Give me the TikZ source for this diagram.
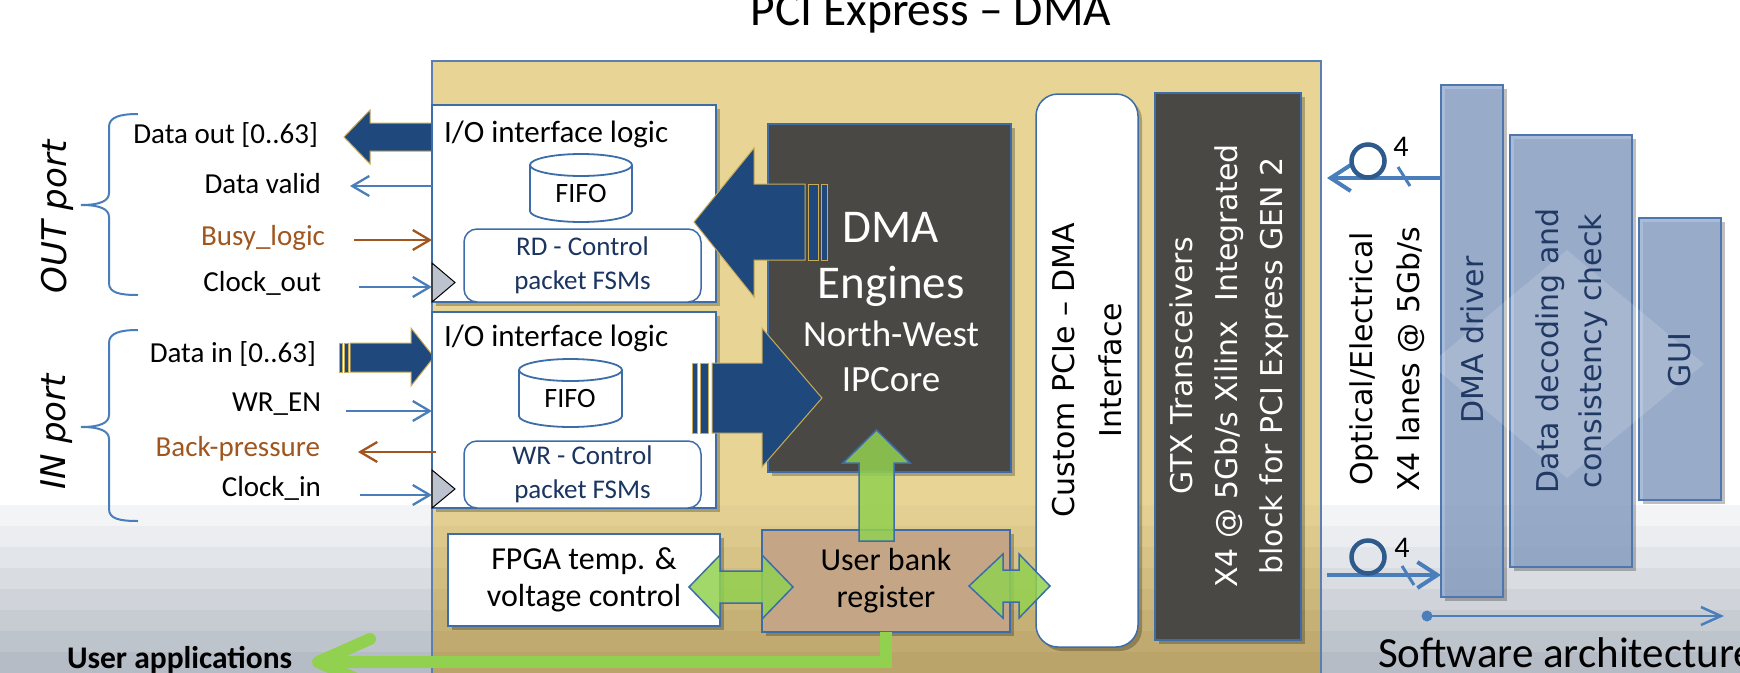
\documentclass[tikz,border=0pt]{standalone}
\usepackage{fontspec}
\setmainfont{Carlito}
\newfontfamily\vera{DejaVu Sans}[ItalicFont={DejaVu Sans Oblique}]
\usetikzlibrary{arrows.meta,shadows}

\definecolor{frameY}{HTML}{E8D596}
\definecolor{frameLine}{HTML}{5B7FB0}
\definecolor{boxLine}{HTML}{3C6DA8}
\definecolor{darkBox}{HTML}{4A4844}
\definecolor{bigBlue}{HTML}{1F497D}
\definecolor{goldEdge}{HTML}{C9AB56}
\definecolor{sigBlue}{HTML}{4A7EBB}
\definecolor{sigOrange}{HTML}{A0561E}
\definecolor{busGreen}{HTML}{92D050}
\definecolor{regTan}{HTML}{C4A687}
\definecolor{swFill}{HTML}{8CA5CC}
\definecolor{swLine}{HTML}{4F77AD}
\definecolor{swText}{HTML}{203864}
\definecolor{fsmText}{HTML}{1B3560}
\definecolor{clkGray}{HTML}{BCC3CE}
\definecolor{lensBlue}{HTML}{2E5A8C}

\newcommand\fsz[2]{\fontsize{#1}{#2}\selectfont}
% FIFO drum: left x, right x, top y, bottom y
\newcommand\fifodrum[4]{%
  \pgfmathsetmacro\drumrx{(#2-#1)/2}%
  \draw[fifo] (#1,#3+11) -- (#1,#4-11)
     arc[start angle=180,end angle=360,x radius=\drumrx pt,y radius=11pt]
     -- (#2,#3+11)
     arc[start angle=0,end angle=180,x radius=\drumrx pt,y radius=11pt] -- cycle;
  \draw[fifo,fill=none] (#1,#3+11)
     arc[start angle=180,end angle=360,x radius=\drumrx pt,y radius=11pt];
}

\begin{document}
\begin{tikzpicture}[x=1pt,y=-1pt,
  every node/.style={inner sep=0pt,outer sep=0pt},
  softshadow/.style={drop shadow={shadow xshift=4pt,shadow yshift=-4pt,opacity=0.25,fill=black}},
  iobox/.style={draw=boxLine,line width=1.5pt,fill=white,softshadow},
  fsmbox/.style={draw=boxLine,line width=1.5pt,fill=white,rounded corners=13pt,
    text=fsmText,align=center,font=\fsz{27}{34}},
  darkbox/.style={draw=boxLine,line width=2pt,fill=darkBox,softshadow},
  swbox/.style={draw=swLine,line width=2pt,fill=swFill,fill opacity=0.75,softshadow},
  sig/.style={draw=sigBlue,line width=2.3pt,-{Straight Barb[length=17pt,width=20pt]}},
  sigo/.style={sig,draw=sigOrange},
  sigtext/.style={font=\fsz{29}{34},anchor=east},
  bigarrow/.style={fill=bigBlue,draw=goldEdge,line width=1pt},
  greenarrow/.style={fill=busGreen,fill opacity=0.85,draw=boxLine,line width=1.5pt},
  greenbus/.style={draw=busGreen,line width=12pt},
  fifo/.style={draw=boxLine,line width=1.8pt,fill=white},
  clock/.style={fill=clkGray,draw=black,line width=1pt},
  curlyline/.style={draw=sigBlue,line width=2pt},
  vtext/.style={rotate=90,align=center,font=\vera\fsz{30}{47}},
  optic/.style={draw=sigBlue,line width=4pt,-{Straight Barb[length=20pt,width=26pt]}},
  lanetick/.style={draw=sigBlue,line width=3pt},
  swaxis/.style={draw=sigBlue,line width=2.5pt,-{Straight Barb[length=20pt,width=18pt]}},
]
\useasboundingbox (0,0) rectangle (1740,672);

% backdrop with horizontal bands
\fill[white] (0,0) rectangle (1740,672);
\fill[frameY] (432,61) rectangle (1321,672);
\foreach \y/\g/\f in {505/F3F4F6/E2CF91,526/EBEDF0/DCC98B,547/E2E5E9/D7C386,
    568/D9DDE2/D1BD80,589/D0D4DA/CBB67B,610/C7CCD3/C5B075,631/BEC4CC/C0AA70,652/B5BCC6/BAA46A}{
  \definecolor{bandG}{HTML}{\g}\definecolor{bandF}{HTML}{\f}
  \fill[bandG] (0,\y) rectangle (432,\y+21.5);
  \fill[bandG] (1321,\y) rectangle (1740,\y+21.5);
  \fill[bandF] (432,\y) rectangle (1321,\y+21.5);
}
\node[draw=frameLine,line width=1.5pt,minimum width=889pt,minimum height=640pt] (board) at (876.5,381) {};

% title
\node[anchor=base,font=\fsz{47.5}{57}] (title) at (931,25) {PCI Express – DMA};

% port groups
\node[font=\vera\itshape\fsz{34}{40},rotate=90] (outPort) at (57,217) {OUT port};
\node[font=\vera\itshape\fsz{34}{40},rotate=90] (inPort) at (57,432) {IN port};
\draw[curlyline] (138,114) .. controls (120,114) and (109,117) .. (109,127) -- (109,193)
  .. controls (109,201) and (100,205) .. (81,205) .. controls (100,205) and (109,209) .. (109,217)
  -- (109,283) .. controls (109,293) and (120,295) .. (138,295);
\draw[curlyline] (138,330) .. controls (120,330) and (109,333) .. (109,343) -- (109,415)
  .. controls (109,423) and (100,427) .. (81,427) .. controls (100,427) and (109,431) .. (109,439)
  -- (109,509) .. controls (109,519) and (120,521) .. (138,521);

% signal names
\node[sigtext] (lDout) at (318,135) {Data out [0..63]};
\node[sigtext] (lDvalid) at (321,184) {Data valid};
\node[sigtext,text=sigOrange] (lBusy) at (325,238) {Busy\_logic};
\node[sigtext] (lClkOut) at (321,283) {Clock\_out};
\node[sigtext] (lDin) at (316,354) {Data in [0..63]};
\node[sigtext] (lWr) at (321,404) {WR\_EN};
\node[sigtext,text=sigOrange] (lBp) at (320,449) {Back-pressure};
\node[sigtext] (lClkIn) at (321,488) {Clock\_in};

% wide data paths at the ports
\filldraw[bigarrow] (432,123) -- (370,123) -- (370,110) -- (344,137) -- (370,164) -- (370,151) -- (432,151) -- cycle;
\filldraw[bigarrow] (339,343) rectangle (342,372);
\filldraw[bigarrow] (344,343) rectangle (348,372);
\filldraw[bigarrow] (350,343) -- (411,343) -- (411,328) -- (434,357) -- (411,386) -- (411,372) -- (350,372) -- cycle;

% I/O interface blocks
\node[iobox,minimum width=284pt,minimum height=197pt] (ioOut) at (574,203.5) {};
\node[iobox,minimum width=284pt,minimum height=196pt] (ioIn) at (574,410) {};
\node[anchor=west,font=\fsz{31}{36}] (ioOutTitle) at (444,134) {I/O interface logic};
\node[anchor=west,font=\fsz{31}{36}] (ioInTitle) at (444,338) {I/O interface logic};
\fifodrum{530}{632}{154}{222}
\node[font=\fsz{28}{34}] (fifoOut) at (581,194) {FIFO};
\fifodrum{519}{622}{359}{427}
\node[font=\fsz{28}{34}] (fifoIn) at (570,399) {FIFO};
\node[fsmbox,minimum width=237pt,minimum height=73pt] (rdFsm) at (582.5,265.5) {RD - Control\\packet FSMs};
\node[fsmbox,minimum width=237pt,minimum height=67pt] (wrFsm) at (582.5,474.5) {WR - Control\\packet FSMs};

% single-wire signals
\coordinate (dvEnd) at (350,186);
\coordinate (busyFrom) at (354,240);
\coordinate (clkoFrom) at (359,287);
\coordinate (wrFrom) at (346,411);
\coordinate (bpEnd) at (358,452);
\coordinate (clkiFrom) at (360,495);
\draw[sig] (dvEnd -| ioOut.west) -- (dvEnd);
\draw[sigo] (busyFrom) -- (busyFrom -| ioOut.west);
\draw[sig] (clkoFrom) -- (clkoFrom -| ioOut.west);
\draw[sig] (wrFrom) -- (wrFrom -| ioIn.west);
\draw[sigo] ([xshift=4pt]bpEnd -| ioIn.west) -- (bpEnd);
\draw[sig] (clkiFrom) -- (clkiFrom -| ioIn.west);
\filldraw[clock] (432,263) -- (455,282.5) -- (432,302) -- cycle;
\filldraw[clock] (432,470) -- (455,489) -- (432,508) -- cycle;

% DMA engine core
\node[darkbox,minimum width=243pt,minimum height=348pt] (dma) at (889.5,298) {};
\node[text=white,align=center,font=\fsz{47}{56}] (dmaName) at (891,259) {DMA\\Engines};
\node[text=white,align=center,font=\fsz{37}{45}] (dmaCore) at (891,356.5) {North-West\\IPCore};

% wide data paths between the engine and the I/O blocks
\filldraw[bigarrow] (808,184) rectangle (818,260);
\filldraw[bigarrow] (821,184) rectangle (827,260);
\filldraw[bigarrow] (805,184) -- (754,184) -- (754,148) -- (694,222) -- (754,297) -- (754,260) -- (805,260) -- cycle;
\filldraw[bigarrow] (692,363) rectangle (697,433);
\filldraw[bigarrow] (700,363) rectangle (708,433);
\filldraw[bigarrow] (712,363) -- (762,363) -- (762,328) -- (822,398) -- (762,467) -- (762,433) -- (712,433) -- cycle;

% monitoring and register bank
\node[iobox,minimum width=272pt,minimum height=92pt,align=center,font=\fsz{32}{37}] (fpgaMon) at (584,580) {FPGA temp. \&\\voltage control};
\node[iobox,fill=regTan,minimum width=248pt,minimum height=102pt,align=center,font=\fsz{32}{37}] (ubank) at (886,581) {User bank\\register};
\filldraw[greenarrow] (876.5,430) -- (910,463) -- (894,463) -- (894,541) -- (859,541) -- (859,463) -- (843,463) -- cycle;
\filldraw[greenarrow] (689,587) -- (720,555) -- (720,571) -- (762,571) -- (762,555) -- (793,587) -- (762,619) -- (762,603) -- (720,603) -- (720,619) -- cycle;

% PCIe interface and transceivers
\node[iobox,rounded corners=22pt,minimum width=102pt,minimum height=553pt] (pcie) at (1087,370.5) {};
\node[vtext] (pcieText) at (1087.5,370) {Custom PCIe – DMA\\Interface};
\node[darkbox,minimum width=146pt,minimum height=547pt] (gtx) at (1228,366.5) {};
\node[vtext,text=white,font=\vera\fsz{30}{45}] (gtxText) at (1229,366) {GTX Transceivers\\X4 @ 5Gb/s Xilinx~ Integrated\\block for PCI Express GEN 2};
\filldraw[greenarrow] (969,586) -- (1003,554) -- (1003,570) -- (1019,570) -- (1019,554) -- (1050,586) -- (1019,618) -- (1019,602) -- (1003,602) -- (1003,618) -- cycle;

% host software stack
\node[swbox,minimum width=62pt,minimum height=512pt] (drv) at (1472,341) {};
\node[swbox,minimum width=122pt,minimum height=432pt] (dec) at (1571,351) {};
\node[swbox,minimum width=82pt,minimum height=282pt] (gui) at (1680,359) {};
\fill[white,opacity=0.15] (1430,364) -- (1567,250) -- (1704,364) -- (1567,478) -- cycle;
\node[vtext,text=swText] (drvText) at (1472,340) {DMA driver};
\node[vtext,text=swText,font=\vera\fsz{30}{43}] (decText) at (1571.5,351) {Data decoding and\\consistency check};
\node[vtext,text=swText] (guiText) at (1680,360) {GUI};

% serial link
\node[vtext] (linkText) at (1387.5,359) {Optical/Electrical\\X4 lanes @ 5Gb/s};
\coordinate (rxTip) at (1327,178);
\coordinate (txFrom) at (1327,575);
\draw[optic] (rxTip -| drv.west) -- (rxTip);
\draw[optic] (txFrom) -- (txFrom -| drv.west);
\draw[lanetick] (1398,167) -- (1410,186);
\draw[lanetick] (1402,566) -- (1414,585);
\node[circle,draw=lensBlue,line width=4.5pt,minimum size=33pt] (lensRx) at (1368,161) {};
\node[circle,draw=lensBlue,line width=4.5pt,minimum size=33pt] (lensTx) at (1368,557) {};
\node[font=\fsz{30}{36}] (lanesRx) at (1401,147) {4};
\node[font=\fsz{30}{36}] (lanesTx) at (1402,548) {4};

% software axis
\coordinate (swFrom) at (1427,616);
\coordinate (swTo) at (1724,616);
\fill[sigBlue] (swFrom) circle[radius=5.5pt];
\draw[swaxis] (swFrom) -- (swTo);
\node[anchor=base west,font=\fsz{43}{50}] (swTitle) at (1378,667) {Software architecture};

% user application bus
\node[anchor=base west,font=\bfseries\fsz{31.5}{38}] (userApps) at (67,668) {User applications};
\coordinate (uaTip) at (318,662);
\draw[greenbus] (ubank.south) -- (ubank.south |- uaTip) -- (uaTip);
\draw[greenbus,line cap=round,line join=round] ([shift={(52,-23)}]uaTip) -- (uaTip) -- ([shift={(52,23)}]uaTip);
\end{tikzpicture}
\end{document}
